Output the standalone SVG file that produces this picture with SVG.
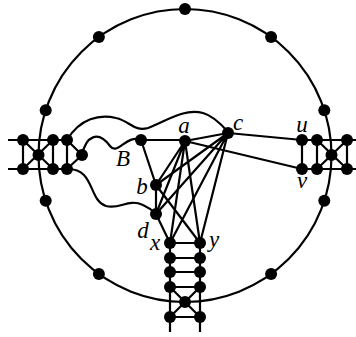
<svg xmlns="http://www.w3.org/2000/svg" width="356" height="337" viewBox="0 0 356 337">
<style>
.e{stroke:#000;stroke-width:2.2;fill:none;stroke-linecap:butt}
.n{fill:#000}
.l{font-family:"Liberation Serif",serif;font-style:italic;font-size:23px;fill:#000;text-anchor:middle}
</style>
<rect width="356" height="337" fill="#fff"/>
<g id="connectors" class="e">
<circle cx="185" cy="155.5" r="146.5"/>
<!-- left gadget -->
<path d="M8,140H67M8,169H67M23,140V169M53,140V169M67,140V169M23,140L53,169M23,169L53,140M67,140L82,155M67,169L82,155"/>
<!-- right gadget -->
<path d="M302,140H356M302,169H356M302,140V169M317,140V169M347,140V169M317,140L347,169M317,169L347,140"/>
<!-- ladder -->
<path d="M170,243V332M200,243V332M170,243H200M170,258H200M170,272H200M170,287H200M170,317H200M170,287L200,317M200,287L170,317"/>
<!-- curves -->
<path d="M67,140C80,118 100,114 116,118C130,121 134,132 148,128C165,122 183,108 203,113C214,116 222,125 228,132"/>
<path d="M82,155C86,136 98,130 110,146C118,156 126,134 141,140"/>
<path d="M67,169C95,168 88,200 106,206C120,210 128,198 143,205C150,208 153,211 156,214"/>
<!-- central edges -->
<path d="M141,140H185M141,140L156,185M156,185V214M156,214L170,243M185,141L228,133M185,141L302,169M228,133L302,140"/>
<path d="M185,141L156,185M185,141L156,214M185,141L170,243M185,141L200,243"/>
<path d="M228,133L156,185M228,133L156,214M228,133L170,243M228,133L200,243M156,185L200,243"/>
</g>
<g id="circle-nodes" class="n">
<circle cx="185" cy="9" r="6"/>
<circle cx="98.9" cy="37" r="6"/>
<circle cx="271.1" cy="37" r="6"/>
<circle cx="45.7" cy="110.2" r="6"/>
<circle cx="324.3" cy="110.2" r="6"/>
<circle cx="45.7" cy="200.8" r="6"/>
<circle cx="324.3" cy="200.8" r="6"/>
<circle cx="98.9" cy="274" r="6"/>
<circle cx="271.1" cy="274" r="6"/>
</g>
<g id="left-gadget" class="n">
<circle cx="23" cy="140" r="6"/><circle cx="53" cy="140" r="6"/><circle cx="67" cy="140" r="6"/>
<circle cx="23" cy="169" r="6"/><circle cx="53" cy="169" r="6"/><circle cx="67" cy="169" r="6"/>
<circle cx="38.5" cy="155" r="6"/><circle cx="82" cy="155" r="6"/>
</g>
<g id="right-gadget" class="n">
<circle cx="317" cy="140" r="6"/><circle cx="347" cy="140" r="6"/>
<circle cx="317" cy="169" r="6"/><circle cx="347" cy="169" r="6"/>
<circle cx="331.5" cy="155" r="6"/>
</g>
<g id="ladder" class="n">
<circle cx="170" cy="258" r="6"/><circle cx="200" cy="258" r="6"/>
<circle cx="170" cy="272" r="6"/><circle cx="200" cy="272" r="6"/>
<circle cx="170" cy="287" r="6"/><circle cx="200" cy="287" r="6"/>
<circle cx="185" cy="302" r="6"/>
<circle cx="170" cy="317" r="6"/><circle cx="200" cy="317" r="6"/>
</g>
<g id="node-B"><circle class="n" cx="141" cy="140" r="6"/><text class="l" x="123" y="166">B</text></g>
<g id="node-a"><circle class="n" cx="185" cy="141" r="6"/><text class="l" x="184" y="133">a</text></g>
<g id="node-c"><circle class="n" cx="228" cy="133" r="6"/><text class="l" x="238" y="130">c</text></g>
<g id="node-b"><circle class="n" cx="156" cy="185" r="6"/><text class="l" x="142" y="194">b</text></g>
<g id="node-d"><circle class="n" cx="156" cy="214" r="6"/><text class="l" x="143" y="238">d</text></g>
<g id="node-x"><circle class="n" cx="170" cy="243" r="6"/><text class="l" x="155" y="250">x</text></g>
<g id="node-y"><circle class="n" cx="200" cy="243" r="6"/><text class="l" x="214" y="247">y</text></g>
<g id="node-u"><circle class="n" cx="302" cy="140" r="6"/><text class="l" x="302" y="132">u</text></g>
<g id="node-v"><circle class="n" cx="302" cy="169" r="6"/><text class="l" x="302" y="188">v</text></g>
</svg>
